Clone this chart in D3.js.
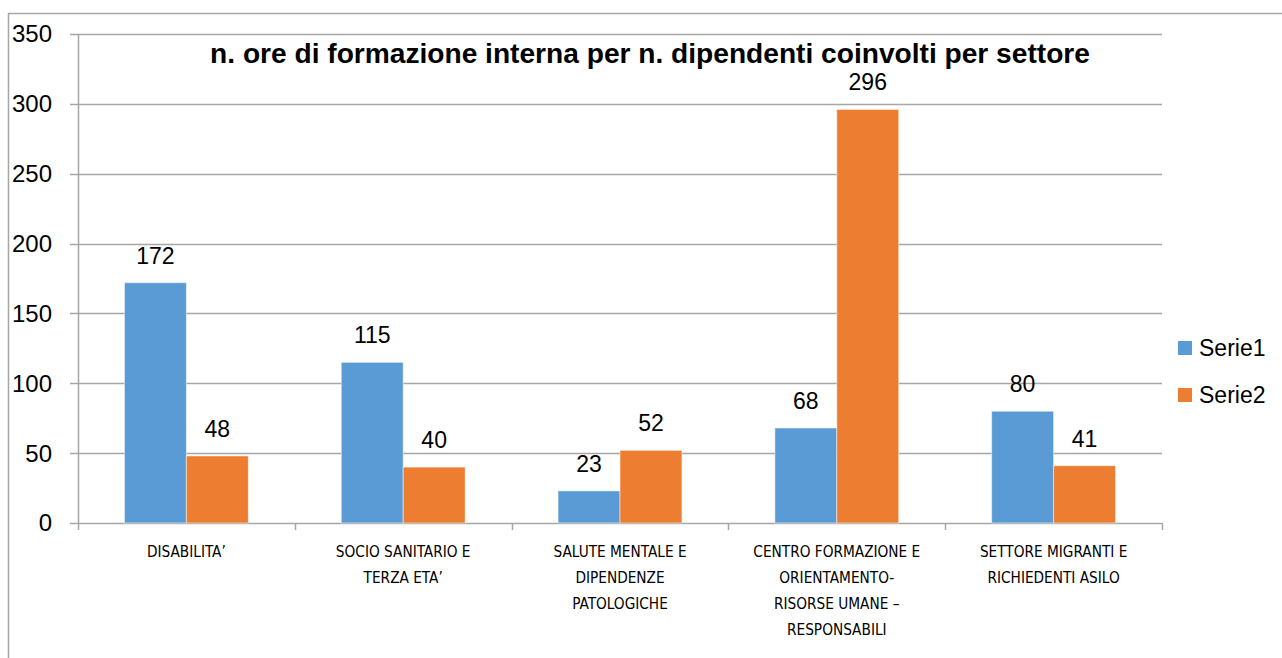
<!DOCTYPE html>
<html>
<head>
<meta charset="utf-8">
<script src="https://cdn.jsdelivr.net/npm/d3@7"></script>
<style>
  html, body { margin: 0; padding: 0; background: #fff; }
  svg { display: block; font-family: "Liberation Sans", Arial, sans-serif; }
</style>
</head>
<body>
<svg id="chart" width="1282" height="658"></svg>
<script>
const title = "n. ore di formazione interna per n. dipendenti coinvolti per settore";
const categories = [
  ["DISABILITA\u2019"],
  ["SOCIO SANITARIO E", "TERZA ETA\u2019"],
  ["SALUTE MENTALE E", "DIPENDENZE", "PATOLOGICHE"],
  ["CENTRO FORMAZIONE E", "ORIENTAMENTO-", "RISORSE UMANE \u2013", "RESPONSABILI"],
  ["SETTORE MIGRANTI E", "RICHIEDENTI ASILO"]
];
const seriesNames = ["Serie1", "Serie2"];
const serie1 = [172, 115, 23, 68, 80];
const serie2 = [48, 40, 52, 296, 41];
const yTicks = [0, 50, 100, 150, 200, 250, 300, 350];
const colors = ["#5b9bd5", "#ed7d31"];

(function () {
const svg = d3.select("#chart");
const gridColor = "#a6a6a6";

// outer chart border
svg.append("rect")
  .attr("x", 8.5).attr("y", 13.5)
  .attr("width", 1400).attr("height", 800)
  .attr("fill", "none").attr("stroke", gridColor).attr("stroke-width", 1.5);

const pLeft = 78, pRight = 1162, pTop = 34, pBottom = 523;
const catKeys = categories.map((c, i) => i);
const x = d3.scaleBand().domain(catKeys).range([pLeft, pRight]).paddingInner(0).paddingOuter(0);
const y = d3.scaleLinear().domain([0, 350]).range([pBottom, pTop]);
const x1 = d3.scaleBand().domain([0, 1]).range([x.bandwidth() * 0.75 / 3.5, x.bandwidth() * 2.75 / 3.5]);

// gridlines
svg.append("g").selectAll("line").data(yTicks).join("line")
  .attr("x1", pLeft - 8).attr("x2", pRight)
  .attr("y1", d => Math.round(y(d)) + 0.5).attr("y2", d => Math.round(y(d)) + 0.5)
  .attr("stroke", gridColor).attr("stroke-width", 1.5);

// y axis line
svg.append("line")
  .attr("x1", pLeft + 0.5).attr("x2", pLeft + 0.5)
  .attr("y1", pTop).attr("y2", pBottom + 0.5)
  .attr("stroke", gridColor).attr("stroke-width", 1.5);

// category ticks
svg.append("g").selectAll("line").data(d3.range(categories.length + 1)).join("line")
  .attr("x1", i => Math.round(pLeft + i * x.bandwidth()) + 0.5)
  .attr("x2", i => Math.round(pLeft + i * x.bandwidth()) + 0.5)
  .attr("y1", pBottom).attr("y2", pBottom + 7)
  .attr("stroke", gridColor).attr("stroke-width", 1.5);

// y tick labels
svg.append("g").selectAll("text").data(yTicks).join("text")
  .attr("x", 52).attr("y", d => y(d)).attr("dy", "0.35em")
  .attr("text-anchor", "end").attr("font-size", 24).attr("fill", "#000")
  .text(d => d);

// bars
const series = [serie1, serie2];
series.forEach((vals, s) => {
  svg.append("g").selectAll("rect").data(vals).join("rect")
    .attr("x", (d, i) => x(i) + x1(s))
    .attr("width", x1.bandwidth())
    .attr("y", d => y(d))
    .attr("height", d => y(0) - y(d))
    .attr("fill", colors[s])
    .attr("stroke", "#ffffff").attr("stroke-opacity", 0.5).attr("stroke-width", 1);
  svg.append("g").selectAll("text").data(vals).join("text")
    .attr("x", (d, i) => x(i) + x1(s) + x1.bandwidth() / 2)
    .attr("y", d => y(d) - 19)
    .attr("text-anchor", "middle").attr("font-size", 23).attr("fill", "#000")
    .text(d => d);
});

// x labels
const xl = svg.append("g").selectAll("text").data(categories).join("text")
  .attr("x", (d, i) => x(i) + x.bandwidth() / 2)
  .attr("y", 557)
  .attr("text-anchor", "middle").attr("font-size", 16)
  .attr("font-family", "'Liberation Sans Narrow', 'DejaVu Sans Condensed', Lato, sans-serif").attr("fill", "#000");
xl.selectAll("tspan").data(d => d).join("tspan")
  .attr("x", function() { return this.parentNode.getAttribute("x"); })
  .attr("dy", (d, j) => j === 0 ? 0 : 26)
  .text(d => d);
// fit label size so the widest line matches the reference width
const probe = xl.filter((d, i) => i === 3).select("tspan").node();
const pw = probe.getComputedTextLength();
xl.attr("font-size", Math.min(17.5, 16 * 167 / pw));

// title
const t = svg.append("text")
  .attr("x", 650).attr("y", 63)
  .attr("text-anchor", "middle").attr("font-weight", "bold").attr("font-size", 24)
  .attr("fill", "#000").text(title);
const tw = t.node().getComputedTextLength();
t.attr("font-size", 24 * 880 / tw);

// legend
const lg = svg.append("g").selectAll("g").data(seriesNames).join("g")
  .attr("transform", (d, i) => `translate(1178, ${341 + i * 47})`);
lg.append("rect").attr("width", 14).attr("height", 14).attr("fill", (d, i) => colors[i]);
lg.append("text").attr("x", 21).attr("y", 7).attr("dy", "0.36em")
  .attr("font-size", 23).attr("fill", "#000").text(d => d);
})();
</script>
</body>
</html>
